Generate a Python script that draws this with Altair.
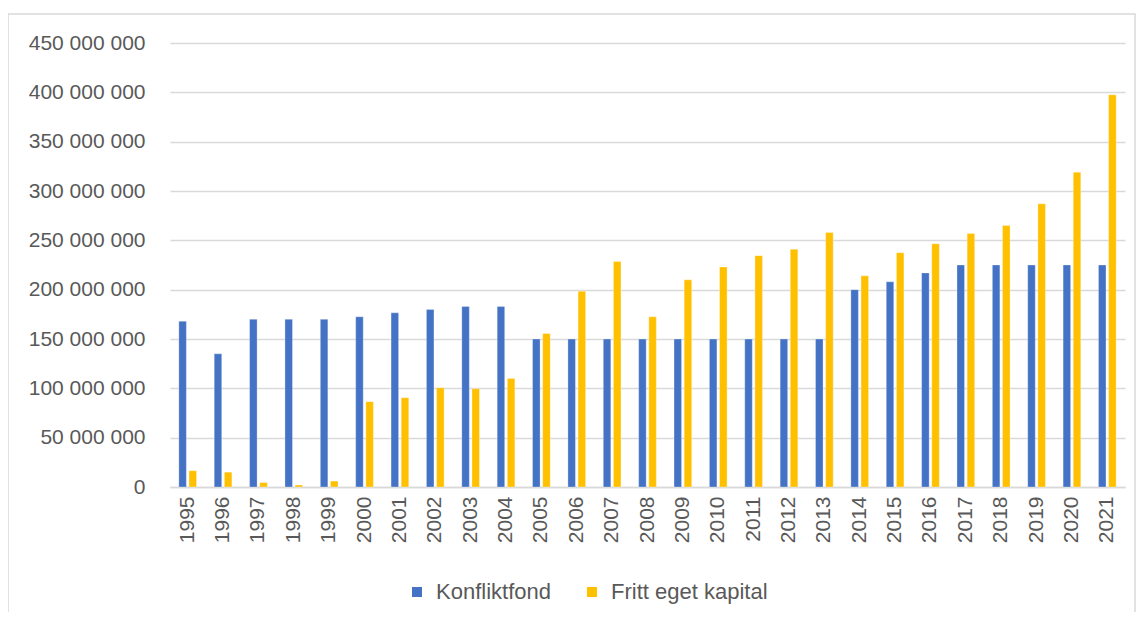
import altair as alt
import pandas as pd

years = [str(y) for y in range(1995, 2022)]
konfliktfond = [168e6, 135e6, 170e6, 170e6, 170e6, 172.5e6, 176.5e6, 180e6, 183e6, 183e6,
                150e6, 150e6, 150e6, 150e6, 150e6, 150e6, 150e6, 150e6, 150e6,
                200e6, 208e6, 217e6, 225e6, 225e6, 225e6, 225e6, 225e6]
fritt_eget = [16.5e6, 15e6, 4.5e6, 2e6, 6e6, 86.5e6, 90.5e6, 100.5e6, 99.5e6, 110e6,
              155.5e6, 198.5e6, 228.5e6, 172.5e6, 210e6, 223e6, 234.5e6, 241e6, 258e6,
              214e6, 237.5e6, 246.5e6, 257e6, 265e6, 287e6, 319e6, 397.5e6]
series = ["Konfliktfond", "Fritt eget kapital"]
colors = ["#4472C4", "#FFC000"]
y_ticks = list(range(0, 450_000_001, 50_000_000))

rows = []
for i, yr in enumerate(years):
    rows.append({"year": yr, "serie": series[0], "value": konfliktfond[i]})
    rows.append({"year": yr, "serie": series[1], "value": fritt_eget[i]})
df = pd.DataFrame(rows)

FONT = "Liberation Sans"
TXT = "#595959"
GRID = "#d9d9d9"

bars = alt.Chart(df).mark_bar(stroke="white", strokeWidth=0.5, strokeOpacity=0.6).encode(
    x=alt.X("year:N", sort=years, title=None,
            scale=alt.Scale(paddingInner=0.5, paddingOuter=0.25),
            axis=alt.Axis(labelAngle=-90, ticks=False, domain=True, domainColor=GRID,
                          domainWidth=1.5, labelPadding=9, labelFontSize=21,
                          labelColor=TXT, labelFont=FONT, grid=False)),
    xOffset=alt.XOffset("serie:N", sort=series, scale=alt.Scale(paddingInner=0.26)),
    y=alt.Y("value:Q", title=None,
            scale=alt.Scale(domain=[0, 450_000_000], nice=False),
            axis=alt.Axis(values=y_ticks, ticks=False, domain=False, grid=True,
                          gridColor=GRID, gridWidth=1.5, labelPadding=25,
                          labelFontSize=21, labelColor=TXT, labelFont=FONT,
                          labelExpr="replace(format(datum.value, ','), regexp(',', 'g'), ' ')")),
    color=alt.Color("serie:N", sort=series, title=None,
                    scale=alt.Scale(domain=series, range=colors),
                    legend=alt.Legend(orient="none", direction="horizontal",
                                      legendX=236, legendY=538, symbolType="square",
                                      symbolSize=100, symbolStrokeWidth=0,
                                      labelFontSize=22, labelColor=TXT, labelFont=FONT,
                                      labelOffset=8, columnPadding=30, padding=0)),
)

frame_df = pd.DataFrame({"f": [1]})
frame = alt.Chart(frame_df).mark_rect(fill=None, stroke="#d9d9d9", strokeWidth=1.5).encode(
    x=alt.value(-162), x2=alt.value(965), y=alt.value(-29), y2=alt.value(579)
)

chart = alt.layer(frame, bars).properties(
    width=955, height=444,
    autosize=alt.AutoSizeParams(type="none"),
    padding={"left": 162, "top": 35, "right": 11, "bottom": 125},
).configure(background="white").configure_view(stroke=None)

chart.save("out.html", embed_options={"renderer": "svg", "actions": False})
